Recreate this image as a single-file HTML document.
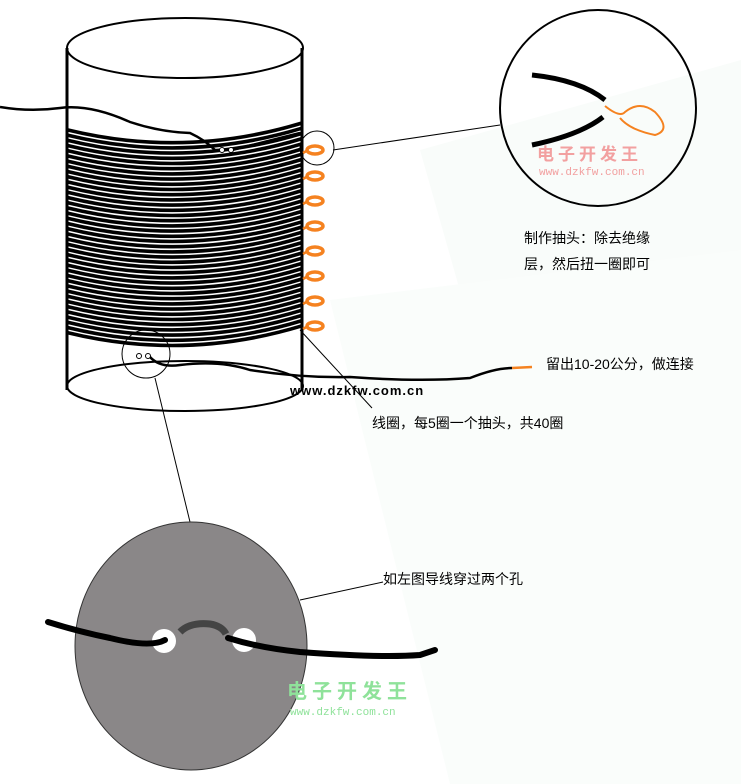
<!DOCTYPE html>
<html><head><meta charset="utf-8"><style>
body{margin:0;background:#fff;}
svg{display:block;}
text{font-family:"Liberation Sans","Noto Sans CJK SC",sans-serif;}
.mono{font-family:"Liberation Mono","Noto Sans CJK SC",monospace;}
</style></head><body>
<svg width="741" height="784" viewBox="0 0 741 784" xmlns="http://www.w3.org/2000/svg">
<rect width="741" height="784" fill="#fff"/>
<polygon points="420,150 741,60 741,784 600,784" fill="#f9fcfa"/>
<polygon points="330,300 741,250 741,784 450,784" fill="#fafdfb"/>
<!-- cylinder -->
<ellipse cx="185" cy="48" rx="118" ry="30" fill="none" stroke="#000" stroke-width="2"/>
<ellipse cx="185" cy="386" rx="118" ry="25" fill="none" stroke="#000" stroke-width="2"/>
<line x1="67" y1="48" x2="67" y2="390" stroke="#000" stroke-width="3"/>
<line x1="302" y1="48" x2="302" y2="390" stroke="#000" stroke-width="3"/>
<g fill="none" stroke="#000" stroke-width="3.6">
<path d="M68,130 Q185,158.5 302,123"/><path d="M68,135.2 Q185,163.7 302,128.2"/><path d="M68,140.4 Q185,168.9 302,133.4"/><path d="M68,145.6 Q185,174.1 302,138.6"/><path d="M68,150.8 Q185,179.3 302,143.8"/><path d="M68,156 Q185,184.5 302,149"/><path d="M68,161.2 Q185,189.7 302,154.2"/><path d="M68,166.4 Q185,194.9 302,159.4"/><path d="M68,171.6 Q185,200.1 302,164.6"/><path d="M68,176.8 Q185,205.3 302,169.8"/><path d="M68,182 Q185,210.5 302,175"/><path d="M68,187.2 Q185,215.7 302,180.2"/><path d="M68,192.4 Q185,220.9 302,185.4"/><path d="M68,197.6 Q185,226.1 302,190.6"/><path d="M68,202.8 Q185,231.3 302,195.8"/><path d="M68,208 Q185,236.5 302,201"/><path d="M68,213.2 Q185,241.7 302,206.2"/><path d="M68,218.4 Q185,246.9 302,211.4"/><path d="M68,223.6 Q185,252.1 302,216.6"/><path d="M68,228.8 Q185,257.3 302,221.8"/><path d="M68,234 Q185,262.5 302,227"/><path d="M68,239.2 Q185,267.7 302,232.2"/><path d="M68,244.4 Q185,272.9 302,237.4"/><path d="M68,249.6 Q185,278.1 302,242.6"/><path d="M68,254.8 Q185,283.3 302,247.8"/><path d="M68,260 Q185,288.5 302,253"/><path d="M68,265.2 Q185,293.7 302,258.2"/><path d="M68,270.4 Q185,298.9 302,263.4"/><path d="M68,275.6 Q185,304.1 302,268.6"/><path d="M68,280.8 Q185,309.3 302,273.8"/><path d="M68,286 Q185,314.5 302,279"/><path d="M68,291.2 Q185,319.7 302,284.2"/><path d="M68,296.4 Q185,324.9 302,289.4"/><path d="M68,301.6 Q185,330.1 302,294.6"/><path d="M68,306.8 Q185,335.3 302,299.8"/><path d="M68,312 Q185,340.5 302,305"/><path d="M68,317.2 Q185,345.7 302,310.2"/><path d="M68,322.4 Q185,350.9 302,315.4"/><path d="M68,327.6 Q185,356.1 302,320.6"/><path d="M68,332.8 Q185,361.3 302,325.8"/>
</g>
<!-- wires -->
<path d="M0,107 Q30,112 60,108 Q90,104 130,122 Q160,132 190,133 Q205,140 215,150 L222,150" fill="none" stroke="#000" stroke-width="2.5"/>
<line x1="232" y1="150" x2="300" y2="133" stroke="#000" stroke-width="2.5"/>
<circle cx="222" cy="150" r="2.5" fill="#fff" stroke="#000"/><circle cx="231" cy="150" r="2.5" fill="#fff" stroke="#000"/>
<circle cx="139" cy="356" r="2.5" fill="#fff" stroke="#000"/><circle cx="148" cy="356" r="2.5" fill="#fff" stroke="#000"/>
<path d="M150,357 Q160,368 180,365 Q220,360 250,370 Q300,378 350,377 Q420,382 470,378 Q495,368 512,368" fill="none" stroke="#000" stroke-width="2.5"/>
<line x1="512" y1="368" x2="532" y2="367" stroke="#f58220" stroke-width="2.5"/>
<!-- orange loops -->
<g fill="none" stroke="#f58220" stroke-width="3.5">
<ellipse cx="315" cy="150" rx="8" ry="4"/><ellipse cx="315" cy="176" rx="8" ry="4"/><ellipse cx="315" cy="201" rx="8" ry="4"/><ellipse cx="315" cy="226" rx="8" ry="4"/><ellipse cx="315" cy="251" rx="8" ry="4"/><ellipse cx="315" cy="276" rx="8" ry="4"/><ellipse cx="315" cy="301" rx="8" ry="4"/><ellipse cx="315" cy="326" rx="8" ry="4"/>
</g>
<g stroke="#f58220" stroke-width="2.5">
<line x1="303" y1="153" x2="308" y2="150"/><line x1="303" y1="179" x2="308" y2="176"/><line x1="303" y1="204" x2="308" y2="201"/><line x1="303" y1="229" x2="308" y2="226"/><line x1="303" y1="254" x2="308" y2="251"/><line x1="303" y1="279" x2="308" y2="276"/><line x1="303" y1="304" x2="308" y2="301"/><line x1="303" y1="329" x2="308" y2="326"/>
</g>
<!-- callouts -->
<circle cx="317" cy="148" r="17" fill="none" stroke="#000" stroke-width="1"/>
<line x1="333" y1="150" x2="500" y2="125" stroke="#000" stroke-width="1"/>
<circle cx="598" cy="108" r="98" fill="none" stroke="#000" stroke-width="2"/>
<path d="M532,75 Q580,80 605,100" fill="none" stroke="#000" stroke-width="5"/>
<path d="M532,145 Q580,135 603,117" fill="none" stroke="#000" stroke-width="5"/>
<path d="M605,106 Q620,118 625,112 Q640,100 655,112 Q672,130 655,135 Q630,130 620,118" fill="none" stroke="#f58220" stroke-width="2"/>
<text x="537" y="160" font-size="17" font-weight="bold" fill="#f2a0a0" letter-spacing="4">电子开发王</text>
<text x="539" y="175" font-size="11" fill="#f2a0a0" class="mono">www.dzkfw.com.cn</text>
<text x="524" y="243" font-size="14" fill="#000">制作抽头：除去绝缘</text>
<text x="524" y="269" font-size="14" fill="#000">层，然后扭一圈即可</text>
<text x="546" y="369" font-size="14" fill="#000">留出10-20公分，做连接</text>
<text x="290" y="395" font-size="13" font-weight="bold" fill="#000" letter-spacing="1">www.dzkfw.com.cn</text>
<line x1="300" y1="330" x2="372" y2="408" stroke="#000" stroke-width="1"/>
<text x="372" y="428" font-size="14" fill="#000">线圈，每5圈一个抽头，共40圈</text>
<circle cx="146" cy="354" r="24" fill="none" stroke="#000" stroke-width="1"/>
<line x1="155" y1="378" x2="190" y2="522" stroke="#000" stroke-width="1"/>
<!-- gray disc -->
<ellipse cx="191" cy="646" rx="116" ry="124" fill="#8a8788" stroke="#333" stroke-width="1"/>
<polygon points="300,570 320,572 310,585" fill="#fff"/>
<line x1="300" y1="600" x2="383" y2="582" stroke="#000" stroke-width="1"/>
<text x="383" y="584" font-size="14" fill="#000">如左图导线穿过两个孔</text>
<path d="M180,632 Q190,622 210,624 Q222,626 226,634" fill="none" stroke="#444" stroke-width="7"/>
<circle cx="164" cy="641" r="12" fill="#fff"/>
<circle cx="244" cy="640" r="12" fill="#fff"/>
<path d="M48,622 Q80,632 110,638 Q150,648 165,640 M228,638 Q260,648 300,652 Q380,658 420,655 L435,650" fill="none" stroke="#000" stroke-width="6" stroke-linecap="round"/>
<text x="287" y="698" font-size="20" font-weight="bold" fill="#8fe29a" letter-spacing="5">电子开发王</text>
<text x="290" y="715" font-size="11" fill="#8fe29a" class="mono">www.dzkfw.com.cn</text>
</svg>
</body></html>
